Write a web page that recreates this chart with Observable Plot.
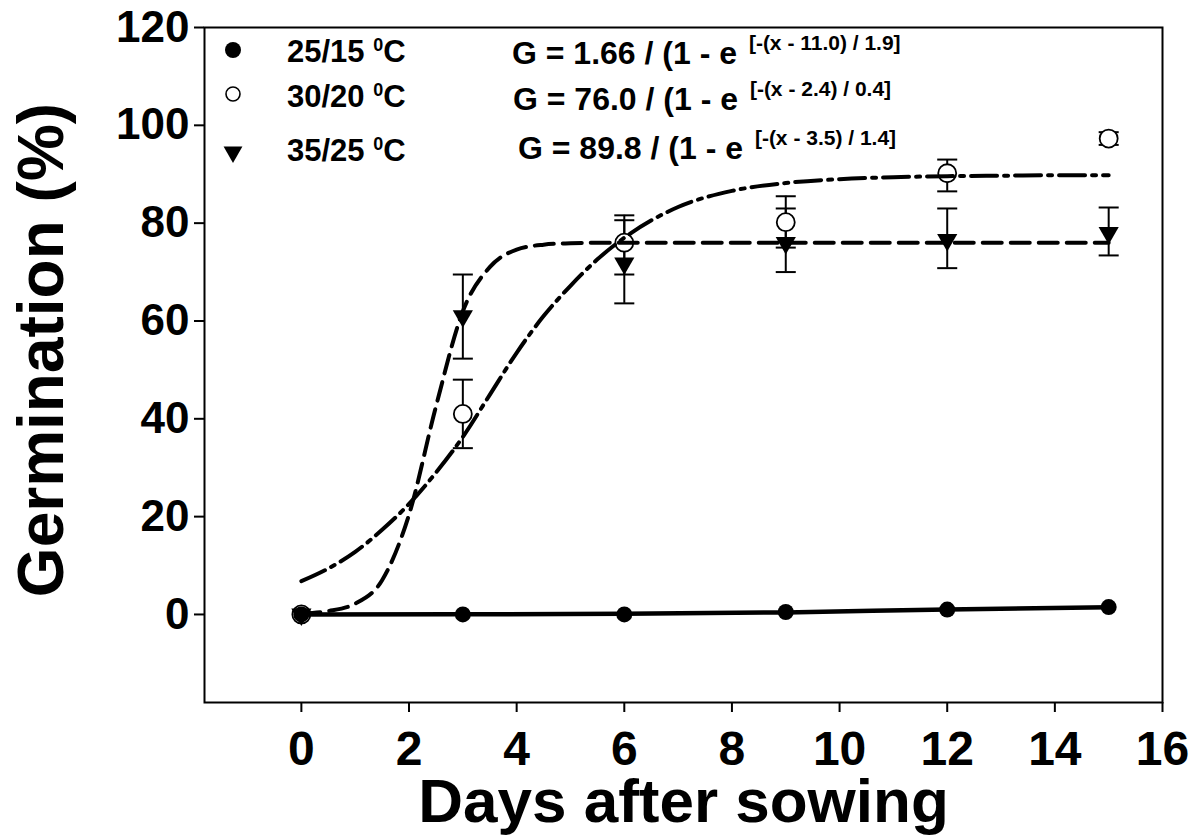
<!DOCTYPE html>
<html><head><meta charset="utf-8">
<script src="https://cdn.jsdelivr.net/npm/d3@7"></script>
<script src="https://cdn.jsdelivr.net/npm/@observablehq/plot@0.6"></script>
<style>
body{margin:0;background:#fff}
svg{font-family:"Liberation Sans",Arial,sans-serif}
</style>
</head><body><div id="chart"></div>
<script>
// Observations (days after sowing)
const days = [0, 3, 6, 9, 12, 15];
const g25 = [0, 0, 0, 0.5, 1, 1.5];                 // 25/15 °C
const g30 = [0, 41, 76, 80.2, 90.2, 97.3];           // 30/20 °C
const g30lo = [0, 34, 69.5, 75, 86.5, 96];
const g30hi = [0, 48, 81.6, 85.5, 93, 98.6];
const g35 = [0, 61, 71.8, 76, 76.6, 78];             // 35/25 °C
const g35lo = [0, 52.3, 63.6, 70, 70.8, 73.4];
const g35hi = [0, 69.5, 80.6, 83, 83, 83.2];

// Fitted curves
const fitX  = [0, 0.5, 1, 1.5, 2, 2.5, 3, 3.5, 4, 4.5, 5, 5.5, 6, 7, 8, 9, 10, 11, 12, 13, 14, 15];
const fit35 = [0.2, 0.7, 2.2, 7, 20.4, 42.5, 62, 71, 74.6, 75.6, 75.9, 76, 76, 76, 76, 76, 76, 76, 76, 76, 76, 76];
const fit30 = [6.8, 9.4, 12.8, 17.3, 22.6, 29, 36.3, 44.9, 53.5, 61, 67.2, 72.6, 77, 83.3, 86.6, 88.2, 89, 89.4, 89.6, 89.7, 89.8, 89.8];
const fit25X = [0, 3, 6, 9, 12, 15];
const fit25 = [0, 0.02, 0.12, 0.42, 1.03, 1.49];

const xTicks = [0, 2, 4, 6, 8, 10, 12, 14, 16];
const yTicks = [0, 20, 40, 60, 80, 100, 120];

const legendLabels = ["25/15", "30/20", "35/25"];
const eqMain = ["G = 1.66 / (1 - e", "G = 76.0 / (1 - e", "G = 89.8 / (1 - e"];
const eqSup = ["[-(x - 11.0) / 1.9]", "[-(x - 2.4) / 0.4]", "[-(x - 3.5) / 1.4]"];

const obs = days.map((d, i) => ({d, g25: g25[i], g30: g30[i], g30lo: g30lo[i], g30hi: g30hi[i], g35: g35[i], g35lo: g35lo[i], g35hi: g35hi[i]}));
const errs = obs.filter(o => o.d > 0);
const curve35 = fitX.map((x, i) => ({x, y: fit35[i]}));
const curve30 = fitX.map((x, i) => ({x, y: fit30[i]}));
const curve25 = fit25X.map((x, i) => ({x, y: fit25[i]}));

const triDown = {draw(ctx, size) {
  const a = Math.sqrt(4 * size / Math.sqrt(3)), h = a * Math.sqrt(3) / 2;
  ctx.moveTo(-a / 2, -h / 3); ctx.lineTo(a / 2, -h / 3); ctx.lineTo(0, 2 * h / 3); ctx.closePath();
}};
const cap = {draw(ctx, size) {
  const w = Math.sqrt(size) / 2; ctx.moveTo(-w, 0); ctx.lineTo(w, 0);
}};
const capR = 11.3;

const chart = Plot.plot({
  width: 1194, height: 839,
  marginLeft: 204, marginRight: 32, marginTop: 27, marginBottom: 137,
  style: {fontFamily: "Liberation Sans, Arial, sans-serif", background: "#fff", color: "#000", overflow: "visible"},
  x: {domain: [-1.8, 16]},
  y: {domain: [-18, 120]},
  marks: [
    Plot.axisX({ticks: xTicks, tickSize: 10, tickPadding: 18, fontSize: 48, fontWeight: "bold", label: null, strokeWidth: 2}),
    Plot.axisY({ticks: yTicks, tickSize: 10, tickPadding: 5, fontSize: 44, fontWeight: "bold", label: null, strokeWidth: 2}),
    Plot.frame({stroke: "#000", strokeWidth: 2}),
    // error bars
    Plot.ruleX(errs, {x: "d", y1: "g30lo", y2: "g30hi", stroke: "#000", strokeWidth: 2}),
    Plot.ruleX(errs, {x: "d", y1: "g35lo", y2: "g35hi", stroke: "#000", strokeWidth: 2}),
    Plot.dot(errs, {x: "d", y: "g30lo", symbol: cap, r: capR, fill: "none", stroke: "#000", strokeWidth: 2}),
    Plot.dot(errs, {x: "d", y: "g30hi", symbol: cap, r: capR, fill: "none", stroke: "#000", strokeWidth: 2}),
    Plot.dot(errs, {x: "d", y: "g35lo", symbol: cap, r: capR, fill: "none", stroke: "#000", strokeWidth: 2}),
    Plot.dot(errs, {x: "d", y: "g35hi", symbol: cap, r: capR, fill: "none", stroke: "#000", strokeWidth: 2}),
    // open circle interiors hide the error bar inside them
    Plot.dot(obs, {x: "d", y: "g30", r: 9, fill: "#fff", stroke: "none"}),
    // fitted curves
    Plot.line(curve25, {x: "x", y: "y", stroke: "#000", strokeWidth: 4.5, curve: "monotone-x"}),
    Plot.line(curve35, {x: "x", y: "y", stroke: "#000", strokeWidth: 4, strokeDasharray: "19,9", curve: "monotone-x"}),
    Plot.line(curve30, {x: "x", y: "y", stroke: "#000", strokeWidth: 4, strokeDasharray: "26,7,4,7", curve: "monotone-x"}),
    // points
    Plot.dot(obs, {x: "d", y: "g35", symbol: triDown, r: 7.5, fill: "#000", stroke: "none"}),
    Plot.dot(obs, {x: "d", y: "g30", r: 9, fill: "none", stroke: "#000", strokeWidth: 1.8}),
    Plot.dot(obs, {x: "d", y: "g25", r: 8, fill: "#000", stroke: "none"}),
    // axis titles
    Plot.text(["Days after sowing"], {frameAnchor: "bottom", lineAnchor: "middle", dy: 100, fontSize: 62, fontWeight: "bold", fill: "#000"}),
    Plot.text(["Germination (%)"], {frameAnchor: "left", textAnchor: "middle", lineAnchor: "middle", dx: -162, dy: -15, rotate: -90, fontSize: 64, fontWeight: "bold", fill: "#000"})
  ]
});

const svg = d3.select(chart);
const leg = svg.append("g").attr("font-weight", "bold").attr("fill", "#000").attr("text-anchor", "start");
const legY = [51, 96, 150];
const markerX = 233;
// legend markers
leg.append("circle").attr("cx", markerX).attr("cy", 50).attr("r", 8).attr("fill", "#000");
leg.append("circle").attr("cx", markerX).attr("cy", 94).attr("r", 7).attr("fill", "none").attr("stroke", "#000").attr("stroke-width", 1.6);
leg.append("path").attr("transform", `translate(${markerX},152)`).attr("d", d3.symbol(triDown, Math.PI * 7 * 7)()).attr("fill", "#000");
legendLabels.forEach((t, i) => {
  const tx = leg.append("text").attr("x", 287).attr("y", legY[i]).attr("dy", "0.36em").attr("font-size", 31).attr("text-anchor", "start");
  tx.append("tspan").text(t + " ");
  tx.append("tspan").attr("font-size", 18).attr("dy", -11).text("0");
  tx.append("tspan").attr("dy", 11).text("C");
});
const eqX = [512, 513, 518];
const eqY = [52, 98, 147];
eqMain.forEach((t, i) => {
  const tx = leg.append("text").attr("x", eqX[i]).attr("y", eqY[i]).attr("dy", "0.36em").attr("font-size", 32).attr("text-anchor", "start");
  tx.append("tspan").text(t + " ");
  tx.append("tspan").attr("font-size", 21).attr("dx", 3).attr("dy", -14).text(eqSup[i]);
});

document.getElementById("chart").appendChild(chart);
</script>
</body></html>
